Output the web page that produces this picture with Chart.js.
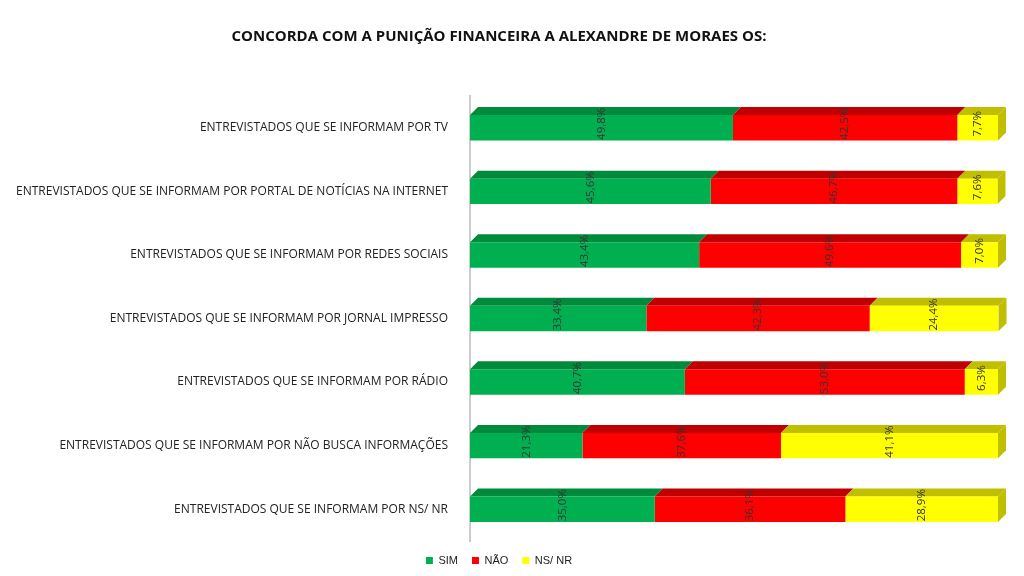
<!DOCTYPE html>
<html><head><meta charset="utf-8">
<script src="https://cdn.jsdelivr.net/npm/chart.js@4"></script>
<style>html,body{margin:0;background:#fff}#wrap{width:1024px;height:576px}</style>
</head><body><div id="wrap"><canvas id="c"></canvas></div>
<script>
const categories = [
  "ENTREVISTADOS QUE SE INFORMAM POR TV",
  "ENTREVISTADOS QUE SE INFORMAM POR PORTAL DE NOTÍCIAS NA INTERNET",
  "ENTREVISTADOS QUE SE INFORMAM POR REDES SOCIAIS",
  "ENTREVISTADOS QUE SE INFORMAM POR JORNAL IMPRESSO",
  "ENTREVISTADOS QUE SE INFORMAM POR RÁDIO",
  "ENTREVISTADOS QUE SE INFORMAM POR NÃO BUSCA INFORMAÇÕES",
  "ENTREVISTADOS QUE SE INFORMAM POR NS/ NR"
];
const simValues = [49.8, 45.6, 43.4, 33.4, 40.7, 21.3, 35.0];
const naoValues = [42.5, 46.7, 49.6, 42.3, 53.0, 37.6, 36.1];
const nsnrValues = [7.7, 7.6, 7.0, 24.4, 6.3, 41.1, 28.9];
const seriesNames = ["SIM", "NÃO", "NS/ NR"];
const colors = ["#00B050", "#FF0000", "#FFFF00"];
const topColors = ["#008A3C", "#C00000", "#BFBF00"];

// darker top face and side to mimic the 3D bars
const depth = {
  id: "depth",
  beforeDatasetsDraw(chart) {
    const ctx = chart.ctx, d = 8;
    chart.data.datasets.forEach((ds, i) => {
      chart.getDatasetMeta(i).data.forEach(b => {
        const top = b.y - b.height / 2, left = Math.min(b.base, b.x), right = Math.max(b.base, b.x);
        ctx.fillStyle = topColors[i];
        ctx.beginPath();
        ctx.moveTo(left, top); ctx.lineTo(left + d, top - d); ctx.lineTo(right + d, top - d); ctx.lineTo(right, top);
        ctx.fill();
        if (i === chart.data.datasets.length - 1) {
          ctx.beginPath();
          ctx.moveTo(right, top); ctx.lineTo(right + d, top - d); ctx.lineTo(right + d, top - d + b.height); ctx.lineTo(right, top + b.height);
          ctx.fill();
        }
      });
    });
  },
  afterDatasetsDraw(chart) {
    const ctx = chart.ctx;
    ctx.save();
    ctx.font = "11.5px 'Open Sans', sans-serif";
    ctx.fillStyle = "#333";
    ctx.textAlign = "center"; ctx.textBaseline = "middle";
    chart.data.datasets.forEach((ds, i) => {
      chart.getDatasetMeta(i).data.forEach((b, j) => {
        const cx = (b.base + b.x) / 2;
        ctx.save(); ctx.translate(cx, b.y - 4); ctx.rotate(-Math.PI / 2);
        ctx.fillText(ds.data[j].toFixed(1).replace(".", ",") + "%", 0, 0);
        ctx.restore();
      });
    });
    ctx.restore();
  }
};

new Chart(document.getElementById("c"), {
  type: "bar",
  data: {
    labels: categories,
    datasets: [simValues, naoValues, nsnrValues].map((v, i) => ({
      label: seriesNames[i], data: v, backgroundColor: colors[i],
      barPercentage: 0.4, categoryPercentage: 1
    }))
  },
  options: {
    indexAxis: "y", responsive: true, maintainAspectRatio: false, animation: false,
    layout: { padding: { top: 10, right: 26, bottom: 0, left: 0 } },
    scales: {
      x: { stacked: true, min: 0, max: 100, display: false },
      y: {
        stacked: true,
        grid: { display: false },
        border: { color: "#ccc", width: 2 },
        ticks: { color: "#222", font: { size: 12, family: "'Open Sans', sans-serif" }, padding: 14 },
        afterFit(s) { s.width = 470; }
      }
    },
    plugins: {
      title: { display: true, text: "CONCORDA COM A PUNIÇÃO FINANCEIRA A ALEXANDRE DE MORAES OS:",
        color: "#111", font: { size: 15, weight: "bold", family: "'Open Sans', sans-serif" }, padding: { top: 18, bottom: 50 } },
      legend: { position: "bottom", labels: { boxWidth: 7, boxHeight: 7, color: "#222", font: { size: 11 }, padding: 14 } },
      tooltip: { enabled: false }
    }
  },
  plugins: [depth]
});
</script></body></html>
